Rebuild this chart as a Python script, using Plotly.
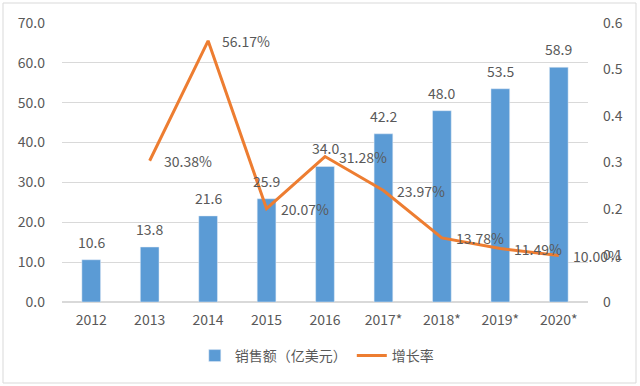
import plotly.graph_objects as go

categories = ["2012", "2013", "2014", "2015", "2016", "2017*", "2018*", "2019*", "2020*"]
sales = [10.6, 13.8, 21.6, 25.9, 34.0, 42.2, 48.0, 53.5, 58.9]
growth = [None, 0.3038, 0.5617, 0.2007, 0.3128, 0.2397, 0.1378, 0.1149, 0.1000]
growth_labels = ["", "30.38%", "56.17%", "20.07%", "31.28%", "23.97%", "13.78%", "11.49%", "10.00%"]
left_ticks = [0, 10, 20, 30, 40, 50, 60, 70]
right_ticks = [0, 0.1, 0.2, 0.3, 0.4, 0.5, 0.6]

font_family = "Noto Sans CJK SC, Noto Sans, sans-serif"
text_col = "#595959"
fs = 14

fig = go.Figure()
fig.add_trace(go.Bar(
    x=categories, y=sales, name="销售额（亿美元）",
    marker=dict(color="#5B9BD5"),
))
fig.add_trace(go.Scatter(
    x=categories, y=growth, name="增长率", yaxis="y2",
    mode="lines", line=dict(color="#ED7D31", width=3),
    cliponaxis=False,
))

annotations = []
for i, v in enumerate(sales):
    annotations.append(dict(x=i, y=v, xref="x", yref="y", text=f"{v:.1f}", showarrow=False,
                            xanchor="center", yanchor="bottom", yshift=6,
                            font=dict(size=fs, color=text_col, family=font_family)))
for i, (g, t) in enumerate(zip(growth, growth_labels)):
    if g is None:
        continue
    annotations.append(dict(x=i, y=g, xref="x", yref="y2", text=t, showarrow=False,
                            xanchor="left", yanchor="middle", xshift=12,
                            font=dict(size=fs, color=text_col, family=font_family)))

W, H = 640, 386
ml, mr, mt, mb = 62, 52, 23, 84
pw, ph = W - ml - mr, H - mt - mb

fig.update_layout(
    width=W, height=H,
    margin=dict(l=ml, r=mr, t=mt, b=mb, autoexpand=False),
    paper_bgcolor="white", plot_bgcolor="white",
    font=dict(family=font_family, size=fs, color=text_col),
    bargap=0.68,
    showlegend=True,
    legend=dict(orientation="h", x=0.495, xref="container", xanchor="center",
                y=1 - 356 / H, yref="container", yanchor="middle",
                font=dict(size=fs, color=text_col)),
    xaxis=dict(type="category", categoryorder="array", categoryarray=categories,
               range=[-0.5, len(categories) - 0.5], autorange=False,
               showgrid=False, showline=False, ticks="", ticklabelstandoff=8,
               tickfont=dict(size=fs, color=text_col)),
    yaxis=dict(range=[0, 70], autorange=False, tickvals=left_ticks, ticktext=[f"{v:.1f}" for v in left_ticks],
               showgrid=True, gridcolor="#D9D9D9", zeroline=True, zerolinecolor="#D9D9D9",
               tickfont=dict(size=fs, color=text_col), ticks="", ticklabelstandoff=16),
    yaxis2=dict(range=[0, 0.6], autorange=False, tickvals=right_ticks, ticktext=["0", "0.1", "0.2", "0.3", "0.4", "0.5", "0.6"],
                overlaying="y", side="right", showgrid=False, zeroline=False, ticks="",
                ticklabelstandoff=14, tickfont=dict(size=fs, color=text_col)),
    annotations=annotations,
    shapes=[dict(type="rect", xref="paper", yref="paper",
                 x0=-(ml - 3) / pw, x1=1 + (mr - 4) / pw,
                 y0=-(mb - 3) / ph, y1=1 + (mt - 3) / ph,
                 line=dict(color="#D9D9D9", width=1), fillcolor="rgba(0,0,0,0)")],
)

fig.write_html("out.html", config={"displayModeBar": False},
               post_script="document.body.style.margin='0';document.body.style.overflow='hidden';")
